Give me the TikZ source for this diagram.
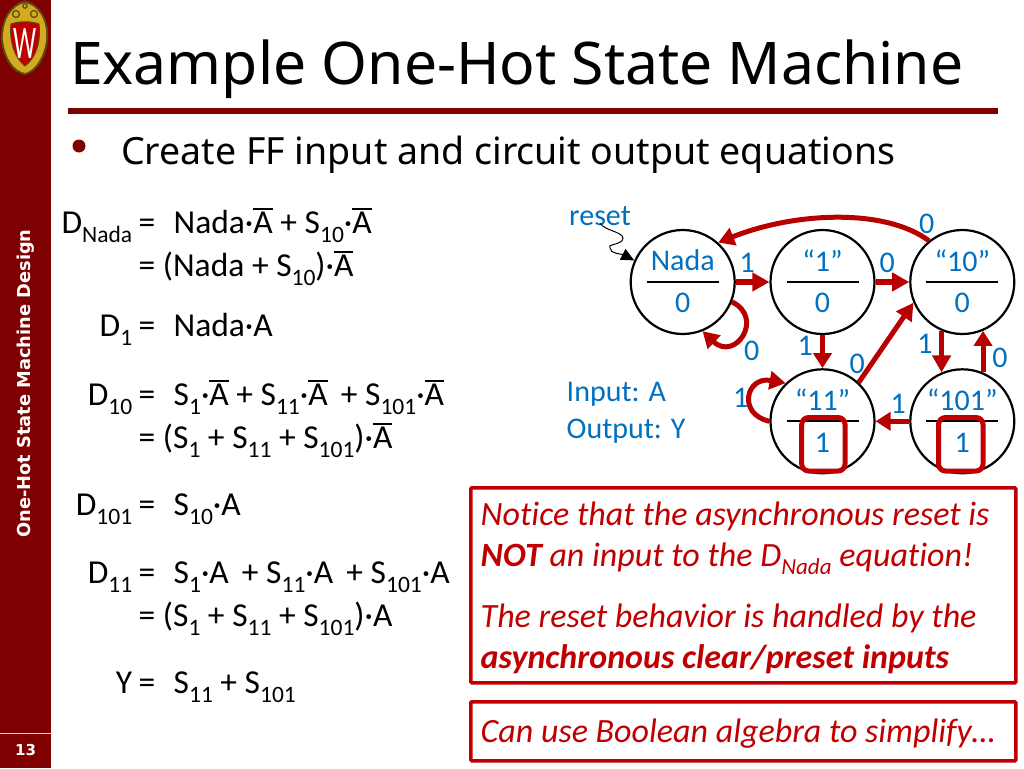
\documentclass[tikz,border=0pt]{standalone}
\usepackage{fontspec}
\setmainfont{Carlito}[Ligatures=NoCommon]
\newfontfamily\titlefont{Noto Sans}
\newfontfamily\sidefont{DejaVu Sans}
\usetikzlibrary{arrows.meta,calc}
\definecolor{uwred}{HTML}{7F0000}
\definecolor{boxred}{HTML}{C00000}
\definecolor{arrowred}{HTML}{B80000}
\definecolor{txtblue}{HTML}{0070C0}
\definecolor{crestdark}{HTML}{5A4A10}
\definecolor{crestgold}{HTML}{D4AA20}
\definecolor{sideline}{HTML}{FFC8C0}
\newcommand{\sbs}[1]{\raisebox{-0.27em}{\fontsize{23.5}{23.5}\selectfont #1}}
\newcommand{\ovl}[1]{\leavevmode\vbox{\hrule height 1.5pt\kern 1.6pt\hbox{#1}}}
\newcommand{\cd}{·}
\newcommand{\eqn}[2]{\makebox[0pt][r]{#1}\hspace{6.5pt}\makebox[35pt][l]{=}#2}
\tikzset{
  eq/.style={anchor=base west,inner sep=0pt,font=\fontsize{33.5}{33.5}\selectfont,text=black},
  st/.style={circle,draw=black,line width=2.2pt,minimum size=104pt,inner sep=0pt,fill=white},
  bl/.style={inner sep=0pt,text=txtblue,font=\fontsize{30}{30}\selectfont},
  blb/.style={inner sep=0pt,anchor=base west,text=txtblue,font=\fontsize{30}{30}\selectfont},
  edge/.style={draw=arrowred,line width=5.5pt,-{Triangle[length=17pt,width=18pt]}},
  curved/.style={draw=arrowred,line width=5pt,-{Triangle[length=16pt,width=18pt]}},
  thinedge/.style={draw=arrowred,line width=5pt,-{Triangle[length=15pt,width=18pt]}},
  bar/.style={draw=black,line width=2pt},
  outbox/.style={draw=boxred,line width=5pt,rounded corners=7pt},
  notebox/.style={draw=boxred,line width=3.5pt,fill=white,rounded corners=1pt},
  note/.style={anchor=base west,inner sep=0pt,text=boxred,font=\fontsize{34}{34}\selectfont\itshape},
}
\begin{document}
\begin{tikzpicture}[x=1pt,y=-1pt]
\useasboundingbox (0,0) rectangle (1024,768);
\fill[white] (0,0) rectangle (1024,768);
% sidebar
\fill[uwred] (0,0) rectangle (51,768);
\draw[draw=sideline,line width=1pt] (0,733.5) -- (51,733.5);
\node[inner sep=0pt,text=white,rotate=90,font=\sidefont\bfseries\fontsize{17.8}{18}\selectfont] (side) at (26,383.5) {One-Hot State Machine Design};
\node[inner sep=0pt,text=white,font=\sidefont\bfseries\fontsize{15}{15}\selectfont] (num) at (25.5,750) {13};
% crest
\fill[crestdark] (25,0.5) .. controls (38,3) and (50,18) .. (48,40) .. controls (46,60) and (35,73) .. (25,75) .. controls (13,73) and (3,60) .. (1,40) .. controls (0,18) and (12,3) .. (25,0.5) -- cycle;
\fill[crestgold] (25,3) .. controls (37,5) and (48,19) .. (46,40) .. controls (44,58) and (34,71) .. (25,73) .. controls (14,71) and (5,58) .. (3,40) .. controls (2,19) and (13,5) .. (25,3) -- cycle;
\draw[crestdark,line width=1.2pt] (16,14) circle (3.5) (34,14) circle (3.5) (25,6) circle (2.2);
\fill[boxred] (11,24) .. controls (20,21) and (30,21) .. (39,24) .. controls (41,42) and (36,58) .. (25,66) .. controls (15,58) and (9,42) .. (11,24) -- cycle;
\draw[crestdark,line width=1pt] (11,24) .. controls (20,21) and (30,21) .. (39,24) .. controls (41,42) and (36,58) .. (25,66) .. controls (15,58) and (9,42) .. (11,24) -- cycle;
\node[inner sep=0pt,text=white,xscale=0.72,yscale=1.3,font=\fontsize{36}{36}\selectfont] (crestw) at (25,43) {W};
% title
\node[anchor=base west,inner sep=0pt,text=black,font=\titlefont\fontsize{58.8}{58.8}\selectfont] (title) at (70,84) {Example One-Hot State Machine};
\fill[uwred] (68,108) rectangle (998,113.5);
\fill[uwred] (79,146) circle (6.5);
\node[anchor=base west,inner sep=0pt,text=black,font=\titlefont\fontsize{37.5}{37.5}\selectfont] (sub) at (121,164) {Create FF input and circuit output equations};
% equations
\node[eq] (e1) at (132,233) {\eqn{D\sbs{Nada}}{Nada\cd\ovl{A} + S\sbs{10}\cd\ovl{A}}};
\node[eq] (e2) at (138.5,276) {= (Nada + S\sbs{10})\cd\ovl{A}};
\node[eq] (e3) at (132,336) {\eqn{D\sbs{1}}{Nada\cd A}};
\node[eq] (e4) at (132,405) {\eqn{D\sbs{10}}{S\sbs{1}\cd\ovl{A} + S\sbs{11}\cd\ovl{A} \,+ S\sbs{101}\cd\ovl{A}}};
\node[eq] (e5) at (138.5,448) {= (S\sbs{1} + S\sbs{11} + S\sbs{101})\cd\ovl{A}};
\node[eq] (e6) at (132,515) {\eqn{D\sbs{101}}{S\sbs{10}\cd A}};
\node[eq] (e7) at (132,583.5) {\eqn{D\sbs{11}}{S\sbs{1}\cd A \,+ S\sbs{11}\cd A \,+ S\sbs{101}\cd A}};
\node[eq] (e8) at (138.5,626) {= (S\sbs{1} + S\sbs{11} + S\sbs{101})\cd A};
\node[eq] (e9) at (132,693) {\eqn{Y}{S\sbs{11} + S\sbs{101}}};
% state circles
\node[st] (nada) at (682.7,282) {};
\node[st] (one) at (822.5,282) {};
\node[st] (ten) at (962.3,282) {};
\node[st] (el) at (822.5,421.3) {};
\node[st] (oo) at (962.3,421.3) {};
% edges
\draw[curved] (ten.129) .. controls (885,208) and (795,212) .. (nada.48);
\draw[curved] (nada.-22) .. controls (765,318) and (735,362) .. (nada.-68);
\draw[edge] (nada) -- (one);
\draw[edge] (one) -- (ten);
\draw[thinedge] (one) -- (el);
\draw[edge,line width=5pt] (el.47) -- (ten.203);
\draw[edge] (ten.247) -- (oo.113);
\draw[thinedge] (oo.67) -- (ten.293);
\draw[thinedge] (oo) -- (el);
\draw[curved] (el.180) .. controls (737,414) and (746,376) .. (el.134);
% reset
\node[bl] (reset) at (600,216.5) {reset};
\coordinate (w1) at (622,241);
\coordinate (w2) at (610,248);
\draw[black,line width=1pt,-{Triangle[length=13pt,width=12pt]}] ($(reset.south)+(0,-3)$) .. controls (606,232) and (628,232) .. (w1) .. controls (614,246) and (608,244) .. (w2) .. controls (610,254) and (622,254) .. (nada.156);
% state texts
\foreach \c in {nada,one,ten,el,oo}{
  \draw[bar] ($(\c)+(-36,0)$) -- ($(\c)+(36,0)$);
}
\node[bl] (t1) at (682.7,260.5) {Nada};
\node[bl] (t2) at (682.7,303) {0};
\node[bl] (t3) at (822.5,260.5) {“1”};
\node[bl] (t4) at (822.5,303) {0};
\node[bl] (t5) at (962.3,260.5) {“10”};
\node[bl] (t6) at (962.3,303) {0};
\node[bl] (t7) at (822.5,400) {“11”};
\node[bl] (t8) at (822.5,443) {1};
\node[bl] (t9) at (962.3,400) {“101”};
\node[bl] (t10) at (962.3,443) {1};
% output boxes
\draw[outbox] (801.7,417.5) rectangle (845,471);
\draw[outbox] (938.5,417.5) rectangle (983,471);
% edge labels
\node[bl] (l1) at (747.3,262.7) {1};
\node[bl] (l2) at (887.3,262.7) {0};
\node[bl] (l3) at (926.7,224.3) {0};
\node[bl] (l4) at (751.7,350.7) {0};
\node[bl] (l5) at (805.3,345.7) {1};
\node[bl] (l6) at (857.3,364) {0};
\node[bl] (l7) at (925,344.3) {1};
\node[bl] (l8) at (1000,358.3) {0};
\node[bl] (l9) at (740.7,398.3) {1};
\node[bl] (l10) at (898.3,404.3) {1};
\node[blb] (in) at (566.5,401.5) {Input: A};
\node[blb] (out) at (566.5,438.5) {Output: Y};
% notes
\node[notebox,minimum width=545pt,minimum height=195pt,anchor=north west,inner sep=0pt] (n1) at (469,486) {};
\node[notebox,minimum width=545pt,minimum height=59pt,anchor=north west,inner sep=0pt] (n2) at (469,700) {};
\node[note] (a1) at (480.5,525) {Notice that the asynchronous reset is};
\node[note] (a2) at (480.5,566) {\textbf{NOT} an input to the D\raisebox{-0.25em}{\fontsize{23}{23}\selectfont Nada} equation!};
\node[note] (a3) at (480.5,627) {The reset behavior is handled by the};
\node[note] (a4) at (480.5,668) {\textbf{asynchronous clear/preset inputs}};
\node[note] (a5) at (480.5,742) {Can use Boolean algebra to simplify…};
\end{tikzpicture}
\end{document}
